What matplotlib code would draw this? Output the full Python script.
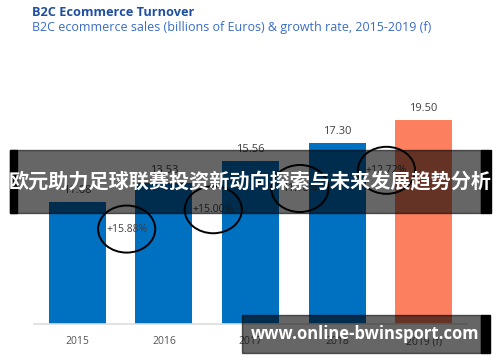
import matplotlib.pyplot as plt
from matplotlib.patches import Ellipse, Rectangle

# data
years = ['2015', '2016', '2017', '2018', '2019 (f)']
sales = [11.68, 13.53, 15.56, 17.30, 19.50]
growth = ['+15.88%', '+15.00%', '11.18%', '+12.72%']
colors = ['#0070C0', '#0070C0', '#0070C0', '#0070C0', '#FC7F5F']

plt.rcParams['font.family'] = ['Open Sans', 'DejaVu Sans']

fig = plt.figure(figsize=(5, 3.62), dpi=100)
ax = fig.add_axes([34 / 500, 38 / 362, 433 / 500, 230 / 362])

x = range(len(years))
ax.bar(x, sales, width=0.66, color=colors, edgecolor='none')
for i, v in enumerate(sales):
    ax.text(i, v + 0.6, f'{v:.2f}', ha='center', va='bottom', fontsize=8, color='#404040')

# growth rate circles between bars
for i, g in enumerate(growth):
    cx = i + 0.57
    cy = sales[i] - 2.6
    ax.add_patch(Ellipse((cx, cy), 0.66, 4.5, fill=False, edgecolor='black', lw=1.4, zorder=5))
    ax.text(cx, cy, g, ha='center', va='center', fontsize=7.5, color='#404040', zorder=6)

ax.set_xlim(-0.5, 4.5)
ax.set_ylim(0, 22)
ax.set_xticks(list(x))
ax.set_xticklabels(years, fontsize=7.5, color='#555555')
ax.tick_params(axis='x', length=0, pad=9)
ax.set_yticks([])
for s in ['top', 'right', 'left']:
    ax.spines[s].set_visible(False)
ax.spines['bottom'].set_color('#dddddd')
ax.spines['bottom'].set_linewidth(1.2)

fig.text(32 / 500, 1 - 13 / 362, 'B2C Ecommerce Turnover', fontsize=9.2, fontweight='bold',
         color='#1F4FA0', va='center')
fig.text(32 / 500, 1 - 27 / 362, 'B2C ecommerce sales (billions of Euros) & growth rate, 2015-2019 (f)',
         fontsize=9, color='#3A6CC6', va='center')

# overlay banner
fig.patches.append(Rectangle((10 / 500, 1 - 213 / 362), 471 / 500, 63 / 362,
                             transform=fig.transFigure, color='black', alpha=0.6, zorder=10))
fig.patches.append(Rectangle((10 / 500, 1 - 213 / 362), 7 / 500, 63 / 362,
                             transform=fig.transFigure, color='black', zorder=10))
fig.patches.append(Rectangle((481 / 500, 1 - 213 / 362), 10 / 500, 63 / 362,
                             transform=fig.transFigure, color='black', zorder=10))
fig.text(250 / 500, 1 - 182 / 362, '欧元助力足球联赛投资新动向探索与未来发展趋势分析',
         family=['Noto Sans CJK SC', 'DejaVu Sans'], fontsize=14.5, fontweight='bold',
         color='white', ha='center', va='center', zorder=11)

# watermark box
fig.patches.append(Rectangle((242 / 500, 1 - 353 / 362), 239 / 500, 38 / 362,
                             transform=fig.transFigure, color='black', alpha=0.6, zorder=10))
fig.patches.append(Rectangle((481 / 500, 1 - 353 / 362), 9 / 500, 38 / 362,
                             transform=fig.transFigure, color='black', zorder=10))
fig.text(365 / 500, 1 - 334 / 362, 'www.online-bwinsport.com', fontsize=12, fontweight='bold',
         color='white', ha='center', va='center', zorder=11)

fig.savefig('out.png', dpi=100)
